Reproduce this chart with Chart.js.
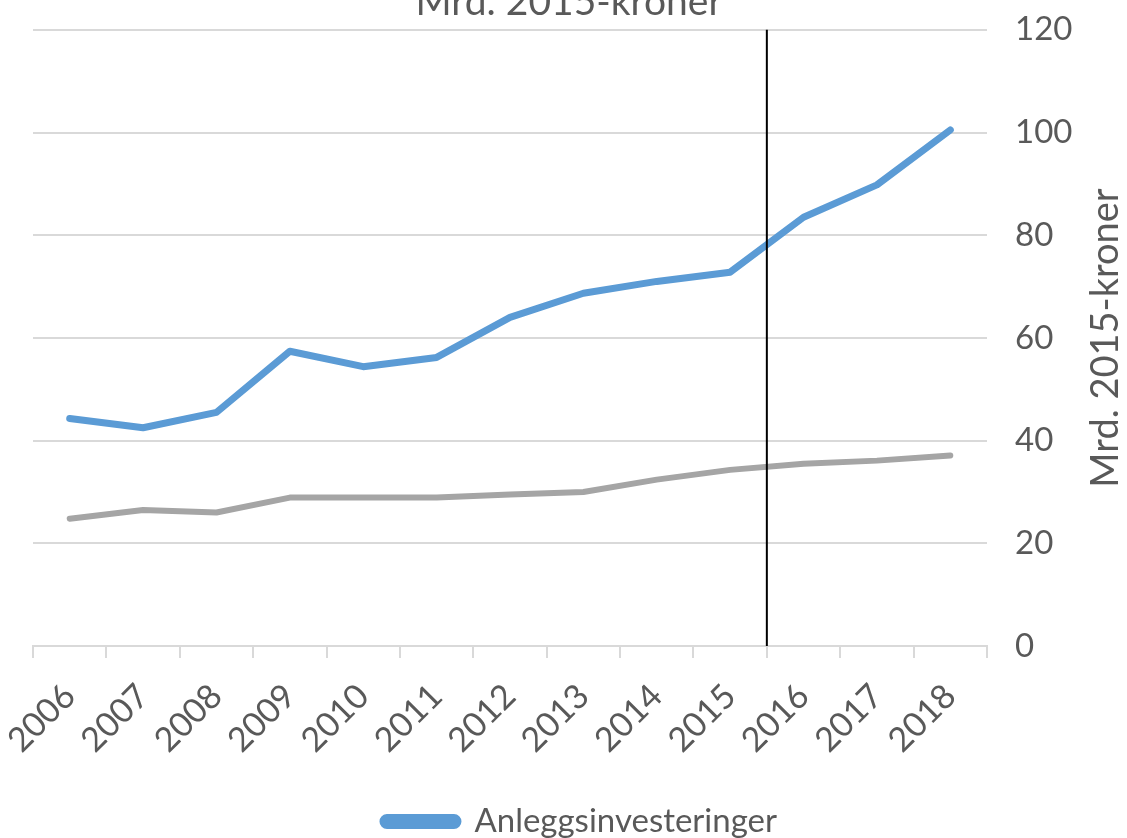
<!DOCTYPE html>
<html>
<head>
<meta charset="utf-8">
<script src="https://cdn.jsdelivr.net/npm/chart.js@4"></script>
<style>
  html, body { margin: 0; padding: 0; background: #fff; }
  #wrap { width: 1127px; height: 838px; }
</style>
</head>
<body>
<div id="wrap"><canvas id="grafica" width="1127" height="838"></canvas></div>
<script>
const aar = ["2006","2007","2008","2009","2010","2011","2012","2013","2014","2015","2016","2017","2018"]
const anlegg = [44.3, 42.5, 45.5, 57.4, 54.4, 56.2, 64.0, 68.7, 71.0, 72.8, 83.5, 89.8, 100.5]
const andre = [24.8, 26.5, 26.0, 28.9, 28.9, 28.9, 29.5, 30.0, 32.4, 34.3, 35.5, 36.1, 37.1]
const yTicks = [0, 20, 40, 60, 80, 100, 120]
const tittel = "Mrd. 2015-kroner"
const skille = 9.5 // mellom 2015 og 2016

const tekstFarge = "#595959"
const font = "Lato, 'Open Sans', sans-serif"

// tittel øverst + rotert aksetittel + svart skillelinje
const ekstra = {
    id: "ekstra",
    afterDraw(chart) {
        const ctx = chart.ctx
        const { top, bottom } = chart.chartArea
        const x = chart.scales.x.getPixelForValue(skille)
        ctx.save()
        ctx.strokeStyle = "#000"
        ctx.lineWidth = 2
        ctx.beginPath()
        ctx.moveTo(x, top)
        ctx.lineTo(x, bottom)
        ctx.stroke()

        ctx.fillStyle = tekstFarge
        ctx.font = "39px " + font
        ctx.textAlign = "center"
        ctx.textBaseline = "alphabetic"
        ctx.fillText(tittel, 569, 15)

        ctx.translate(1125, 338)
        ctx.rotate(-Math.PI / 2)
        ctx.textBaseline = "bottom"
        ctx.font = "38px " + font
        ctx.fillText(tittel, 0, 0)
        ctx.restore()
    }
}

new Chart(document.querySelector("#grafica"), {
    type: "line",
    data: {
        labels: aar,
        datasets: [{
            label: "Anleggsinvesteringer",
            data: anlegg,
            borderColor: "#5B9BD5",
            backgroundColor: "#5B9BD5",
            borderWidth: 7,
            pointRadius: 0,
            tension: 0,
            borderCapStyle: "round",
            borderJoinStyle: "round"
        }, {
            label: "andre",
            data: andre,
            borderColor: "#A5A5A5",
            backgroundColor: "#A5A5A5",
            borderWidth: 6,
            pointRadius: 0,
            tension: 0,
            borderCapStyle: "round",
            borderJoinStyle: "round"
        }]
    },
    options: {
        responsive: false,
        animation: false,
        layout: { padding: { left: 33, top: 12, right: 0, bottom: -10 } },
        plugins: {
            title: { display: false },
            tooltip: { enabled: false },
            legend: {
                position: "bottom",
                labels: {
                    filter: item => item.datasetIndex === 0,
                    boxWidth: 75,
                    boxHeight: 8,
                    useBorderRadius: true,
                    borderRadius: 4,
                    color: tekstFarge,
                    font: { family: font, size: 33 },
                    padding: 2
                }
            }
        },
        scales: {
            x: {
                offset: true,
                afterFit: scale => {
                    scale.height = 157
                    scale.paddingLeft = 0
                    scale.paddingRight = 0
                },
                grid: {
                    offset: true,
                    drawOnChartArea: false,
                    color: "#D9D9D9",
                    lineWidth: 2,
                    tickLength: 12
                },
                border: { display: true, color: "#D9D9D9", width: 2 },
                ticks: {
                    color: tekstFarge,
                    font: { family: font, size: 34 },
                    maxRotation: 45,
                    minRotation: 45,
                    autoSkip: false,
                    padding: 18
                }
            },
            y: {
                position: "right",
                min: 0,
                max: 120,
                afterBuildTicks: scale => { scale.ticks = yTicks.map(v => ({ value: v })) },
                afterFit: scale => { scale.width = 140 },
                grid: {
                    color: "#D9D9D9",
                    tickColor: "rgba(0,0,0,0)",
                    lineWidth: 2,
                    drawTicks: true,
                    tickLength: 18
                },
                border: { display: false },
                ticks: {
                    color: tekstFarge,
                    font: { family: font, size: 33 },
                    padding: 10
                }
            }
        }
    },
    plugins: [ekstra]
})
</script>
</body>
</html>
